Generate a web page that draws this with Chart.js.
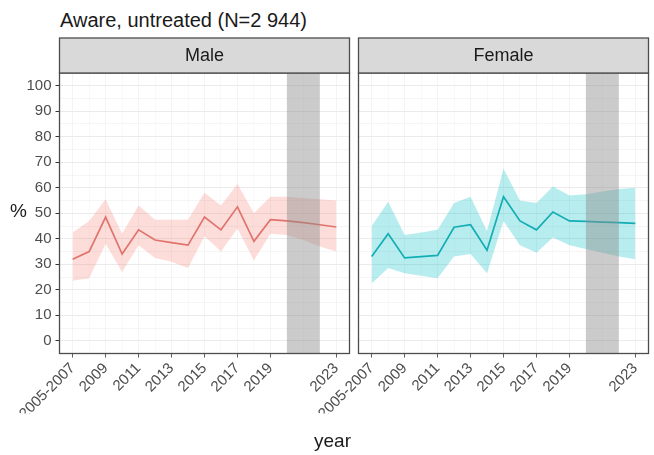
<!DOCTYPE html>
<html>
<head>
<meta charset="utf-8">
<script src="https://cdn.jsdelivr.net/npm/chart.js@4.4.1/dist/chart.umd.min.js"></script>
<style>
  body { margin: 0; background: #fff; font-family: "Liberation Sans", Arial, sans-serif; }
  #wrap { position: relative; width: 654px; height: 455px; overflow: hidden; }
  canvas { position: absolute; top: 0; }
  .lbl { position: absolute; color: #1a1a1a; white-space: nowrap; }
</style>
</head>
<body>
<div id="wrap">
  <div class="lbl" style="left:60px; top:10px; font-size:20px; line-height:20px;">Aware, untreated (N=2 944)</div>
  <canvas id="male" width="355" height="455" style="left:0"></canvas>
  <canvas id="female" width="349" height="455" style="left:305px"></canvas>
  <div class="lbl" style="left:10px; top:201px; font-size:19px; line-height:19px;">%</div>
  <div class="lbl" style="left:314px; top:431px; font-size:19px; line-height:19px;">year</div>
</div>
<script>
// survey years (2005-2007 pooled, plotted at 2007)
const years = [2007, 2008, 2009, 2010, 2011, 2012, 2013, 2014, 2015, 2016, 2017, 2018, 2019, 2020, 2021, 2022, 2023];

const maleMid  = [32, 35, 48.5, 34, 43.5, 39.5, 38.5, 37.5, 48.5, 43.5, 52.5, 39, 47.5, 47, 46.3, 45.5, 44.6];
const maleLow  = [23.5, 24.5, 38, 27, 37.5, 32.5, 31, 28.5, 41, 35, 44, 31.5, 42, 41.5, 39.5, 37, 35];
const maleHigh = [42.5, 47, 55.5, 42, 53, 47.5, 47.5, 47.5, 58, 53, 61.5, 50, 56.5, 56.5, 56, 55.5, 55];

const femaleMid  = [33, 42, 32.5, 33, 33.5, 44.5, 45.5, 35.5, 56.5, 47, 43.5, 50.5, 47, 46.8, 46.5, 46.3, 46];
const femaleLow  = [22.5, 28.5, 26.5, 25.5, 24.5, 33, 34, 26.5, 47, 37.5, 34.5, 40.5, 37.5, 36, 34.5, 33, 32];
const femaleHigh = [45, 54.5, 41.5, 42.5, 43.5, 54, 56.5, 43, 67.5, 55, 54, 60.5, 57, 57.5, 58.5, 59.5, 60];

const xTickYears  = [2007, 2009, 2011, 2013, 2015, 2017, 2019, 2023];
const xTickLabels = ['2005-2007', '2009', '2011', '2013', '2015', '2017', '2019', '2023'];
const xMinorYears = [2008, 2010, 2012, 2014, 2016, 2018, 2021];
const yTickValues = [0, 10, 20, 30, 40, 50, 60, 70, 80, 90, 100];
const yMinorValues = [5, 15, 25, 35, 45, 55, 65, 75, 85, 95];

// no survey in these years
const shadedYears = [2020, 2022];

const FONT = '"Liberation Sans", Arial, sans-serif';

const pts = vals => vals.map((v, i) => ({ x: years[i], y: v }));

// shaded gap, panel frame and strip header
const panelFrame = {
  id: 'panelFrame',
  afterDatasetsDraw(chart, args, opts) {
    const { ctx, chartArea: a, scales: { x } } = chart;
    const x0 = x.getPixelForValue(shadedYears[0]);
    const x1 = x.getPixelForValue(shadedYears[1]);
    ctx.save();
    ctx.fillStyle = 'rgba(140,140,140,0.45)';
    ctx.fillRect(x0, a.top, x1 - x0, a.bottom - a.top);

    ctx.strokeStyle = '#4d4d4d';
    ctx.lineWidth = 1.3;
    ctx.strokeRect(a.left, a.top, a.right - a.left, a.bottom - a.top);

    const h = 35;
    ctx.fillStyle = '#d9d9d9';
    ctx.fillRect(a.left, a.top - h, a.right - a.left, h);
    ctx.strokeRect(a.left, a.top - h, a.right - a.left, h);
    ctx.fillStyle = '#1a1a1a';
    ctx.font = '18px ' + FONT;
    ctx.textAlign = 'center';
    ctx.textBaseline = 'middle';
    ctx.fillText(opts.label, (a.left + a.right) / 2, a.top - h / 2 + 1);
    ctx.restore();
  }
};

function makePanel(id, label, mid, low, high, lineColor, bandColor, showY, padding) {
  const xAll = xTickYears.concat(xMinorYears);
  const yAll = yTickValues.concat(yMinorValues);
  return new Chart(document.getElementById(id), {
    type: 'line',
    data: {
      datasets: [
        { data: pts(low), borderWidth: 0, pointRadius: 0, fill: false },
        { data: pts(high), borderWidth: 0, pointRadius: 0, fill: '-1', backgroundColor: bandColor },
        { data: pts(mid), borderColor: lineColor, borderWidth: 1.7, pointRadius: 0, fill: false }
      ]
    },
    options: {
      responsive: false,
      animation: false,
      layout: { padding: padding },
      plugins: {
        legend: { display: false },
        tooltip: { enabled: false },
        panelFrame: { label: label }
      },
      scales: {
        x: {
          type: 'linear',
          min: 2006.2,
          max: 2023.8,
          afterBuildTicks: s => { s.ticks = xAll.map(v => ({ value: v })); },
          afterFit: s => { s.height = 60; },
          border: { display: false },
          grid: {
            color: '#f1f1f1',
            lineWidth: c => xTickYears.includes(c.tick.value) ? 0.8 : 0.4,
            tickLength: 4,
            tickColor: c => xTickYears.includes(c.tick.value) ? '#333333' : 'rgba(0,0,0,0)'
          },
          ticks: {
            autoSkip: false,
            minRotation: 45,
            maxRotation: 45,
            padding: 2,
            color: '#4d4d4d',
            font: { size: 15, family: FONT },
            callback: v => {
              const i = xTickYears.indexOf(v);
              return i < 0 ? '' : xTickLabels[i];
            }
          }
        },
        y: {
          min: -5,
          max: 105,
          afterBuildTicks: s => { s.ticks = yAll.map(v => ({ value: v })); },
          afterFit: s => { s.width = showY ? 59.5 : 0; },
          border: { display: false },
          grid: {
            color: '#ebebeb',
            lineWidth: c => yTickValues.includes(c.tick.value) ? 1 : 0.5,
            drawTicks: showY,
            tickLength: 4,
            tickColor: c => yTickValues.includes(c.tick.value) ? '#333333' : 'rgba(0,0,0,0)'
          },
          ticks: {
            display: showY,
            autoSkip: false,
            padding: 4,
            color: '#4d4d4d',
            font: { size: 15, family: FONT },
            callback: v => yTickValues.includes(v) ? String(v) : ''
          }
        }
      }
    },
    plugins: [panelFrame]
  });
}

makePanel('male', 'Male', maleMid, maleLow, maleHigh,
  '#d8736d', 'rgba(248,118,109,0.25)', true,
  { top: 73, right: 5.5, bottom: 41.5, left: 0 });

makePanel('female', 'Female', femaleMid, femaleLow, femaleHigh,
  '#1aa8ad', 'rgba(0,191,196,0.28)', false,
  { top: 73, right: 5.5, bottom: 41.5, left: 53.5 });
</script>
</body>
</html>
